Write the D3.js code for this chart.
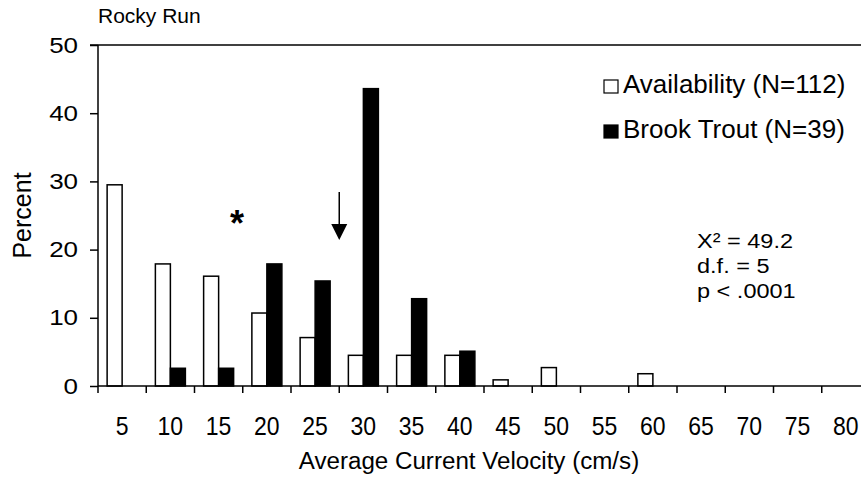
<!DOCTYPE html>
<html>
<head>
<meta charset="utf-8">
<script src="https://cdn.jsdelivr.net/npm/d3@7"></script>
<style>
  html, body { margin: 0; padding: 0; background: #fff; }
  svg text { font-family: "Liberation Sans", Arial, sans-serif; fill: #000; }
</style>
</head>
<body>
<svg id="chart" width="861" height="480"></svg>
<script>
// Velocity classes (cm/s) and percent of observations in each class
const categories = ["5","10","15","20","25","30","35","40","45","50","55","60","65","70","75","80"];
const availability = [29.5, 17.9, 16.1, 10.7, 7.1, 4.5, 4.5, 4.5, 0.9, 2.7, 0, 1.8, 0, 0, 0, 0];
const brookTrout   = [0, 2.6, 2.6, 17.9, 15.4, 43.6, 12.8, 5.1, 0, 0, 0, 0, 0, 0, 0, 0];
const yTicks = [0, 10, 20, 30, 40, 50];
const seriesKeys = ["Availability (N=112)", "Brook Trout (N=39)"];
const statsLines = ["X\u00B2 = 49.2", "d.f. = 5", "p < .0001"];

const svg = d3.select("#chart");
const plotLeft = 98, plotTop = 45, plotBottom = 386;
const step = 48.25;

const x = d3.scaleBand().domain(categories).range([plotLeft, plotLeft + step * categories.length]).padding(0);
const xSub = d3.scaleBand().domain(["a", "t"]).range([0, x.bandwidth()]).paddingInner(0).paddingOuter(0.608);
const y = d3.scaleLinear().domain([0, 50]).range([plotBottom, plotTop]);

// top border line
svg.append("line")
  .attr("x1", plotLeft - 8).attr("x2", 861)
  .attr("y1", y(50)).attr("y2", y(50))
  .attr("stroke", "#000").attr("stroke-width", 1.5);

// bars
const rows = categories.map((c, i) => ({ c, a: availability[i], t: brookTrout[i] }));
const g = svg.append("g");
g.selectAll("rect.a").data(rows.filter(d => d.a > 0)).join("rect")
  .attr("class", "a")
  .attr("x", d => x(d.c) + xSub("a"))
  .attr("width", xSub.bandwidth())
  .attr("y", d => y(d.a))
  .attr("height", d => y(0) - y(d.a))
  .attr("fill", "#fff").attr("stroke", "#000").attr("stroke-width", 1.5);
g.selectAll("rect.t").data(rows.filter(d => d.t > 0)).join("rect")
  .attr("class", "t")
  .attr("x", d => x(d.c) + xSub("t"))
  .attr("width", xSub.bandwidth())
  .attr("y", d => y(d.t))
  .attr("height", d => y(0) - y(d.t))
  .attr("fill", "#000").attr("stroke", "#000").attr("stroke-width", 1.5);

// y axis
const yAxis = svg.append("g")
  .attr("transform", `translate(${plotLeft},0)`)
  .call(d3.axisLeft(y).tickValues(yTicks).tickSize(8).tickPadding(12).tickFormat(d3.format("d")));
yAxis.select(".domain").attr("stroke", "#000").attr("stroke-width", 1.5).attr("d", `M0,${y(0)}V${y(50)}`);
yAxis.selectAll(".tick line").attr("stroke", "#000").attr("stroke-width", 1.5);
yAxis.selectAll(".tick text")
  .attr("x", 0)
  .attr("transform", "translate(-20,0) scale(1.18,1)")
  .attr("font-size", 22)
  .attr("font-family", "Liberation Sans, Arial, sans-serif");

// x axis: ticks sit on the class boundaries, labels at class centres
const xAxis = svg.append("g").attr("transform", `translate(0,${plotBottom})`);
xAxis.append("line")
  .attr("x1", plotLeft).attr("x2", 861).attr("y1", 0).attr("y2", 0)
  .attr("stroke", "#000").attr("stroke-width", 1.5);
xAxis.selectAll("line.tk").data(categories).join("line")
  .attr("class", "tk")
  .attr("x1", d => x(d)).attr("x2", d => x(d))
  .attr("y1", 0).attr("y2", 7)
  .attr("stroke", "#000").attr("stroke-width", 1.5);
xAxis.selectAll("text").data(categories).join("text")
  .attr("transform", d => `translate(${x(d) + x.bandwidth() / 2},${49}) scale(0.92,1)`)
  .attr("text-anchor", "middle")
  .attr("font-size", 25)
  .text(d => d);

// axis titles
svg.append("text")
  .attr("transform", "translate(469,469) scale(1.05,1)")
  .attr("text-anchor", "middle").attr("font-size", 23)
  .text("Average Current Velocity (cm/s)");
svg.append("text")
  .attr("transform", `translate(31,${(y(0) + y(50)) / 2}) rotate(-90)`)
  .attr("text-anchor", "middle").attr("font-size", 25)
  .text("Percent");

// chart title
svg.append("text").attr("x", 98).attr("y", 23).attr("font-size", 21).text("Rocky Run");

// legend
const legend = svg.append("g").attr("transform", "translate(604,0)");
const legendRowY = [93, 138];
seriesKeys.forEach((k, i) => {
  legend.append("rect")
    .attr("x", 0).attr("y", legendRowY[i] - 13).attr("width", 14).attr("height", 13)
    .attr("fill", i === 0 ? "#fff" : "#000").attr("stroke", "#000").attr("stroke-width", 1.2);
  legend.append("text")
    .attr("x", 19).attr("y", legendRowY[i])
    .attr("font-size", 26).text(k);
});

// test statistics
svg.append("g").selectAll("text").data(statsLines).join("text")
  .attr("transform", (d, i) => `translate(697,${248 + i * 25}) scale(1.12,1)`)
  .attr("font-size", 21).text(d => d);

// significance asterisk
svg.append("text")
  .attr("x", 237).attr("y", 236).attr("text-anchor", "middle")
  .attr("font-size", 36).attr("font-weight", "bold").text("*");

// arrow marking the class boundary between 25 and 30
const ax = x("25") + x.bandwidth();
svg.append("line")
  .attr("x1", ax).attr("x2", ax).attr("y1", 192).attr("y2", 226)
  .attr("stroke", "#000").attr("stroke-width", 1.5);
svg.append("path")
  .attr("d", d3.line()([[ax - 8, 224], [ax + 8, 224], [ax, 240]]) + "Z")
  .attr("fill", "#000");
</script>
</body>
</html>
